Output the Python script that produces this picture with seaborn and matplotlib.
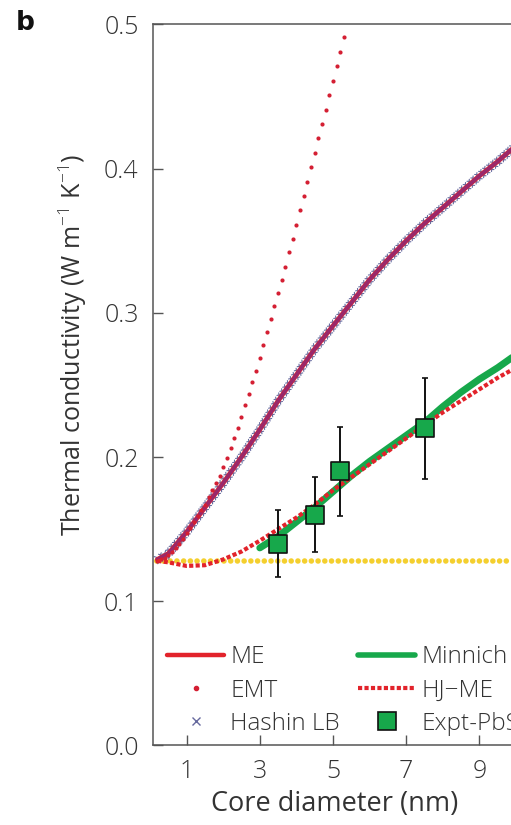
import matplotlib
matplotlib.use("Agg")
import matplotlib.pyplot as plt
import matplotlib.patheffects as pe
from matplotlib.lines import Line2D
import pandas as pd
import seaborn as sns

# Core diameter grid (nm) for the smooth model curves
diam = [0.2, 0.5, 1.0, 1.5, 2.0, 2.5, 3.0, 3.5, 4.0, 4.5, 5.0, 5.5,
        6.0, 6.5, 7.0, 7.5, 8.0, 8.5, 9.0, 9.5, 10.0, 10.5, 11.0]

# Thermal conductivity (W m^-1 K^-1) from each model
k_me = [0.129, 0.133, 0.148, 0.165, 0.182, 0.200, 0.219, 0.239, 0.257, 0.275, 0.291, 0.307,
        0.323, 0.337, 0.350, 0.362, 0.373, 0.384, 0.395, 0.405, 0.416, 0.426, 0.436]
k_hashin = [0.129, 0.133, 0.148, 0.165, 0.182, 0.200, 0.219, 0.239, 0.257, 0.275, 0.291, 0.307,
            0.323, 0.337, 0.350, 0.362, 0.373, 0.384, 0.395, 0.405, 0.416, 0.426, 0.436]
k_hjme = [0.128, 0.127, 0.1245, 0.125, 0.129, 0.1345, 0.142, 0.150, 0.158, 0.167, 0.177, 0.186,
          0.195, 0.204, 0.213, 0.222, 0.231, 0.239, 0.247, 0.255, 0.262, 0.269, 0.276]

diam_minnich = [3.0, 3.5, 4.0, 4.5, 5.0, 5.5, 6.0, 6.5, 7.0, 7.5, 8.0, 8.5, 9.0, 9.5, 10.0, 10.5, 11.0]
k_minnich = [0.137, 0.145, 0.155, 0.165, 0.176, 0.187, 0.197, 0.206, 0.215, 0.224, 0.235, 0.245,
             0.254, 0.262, 0.271, 0.279, 0.287]

# Effective medium theory, sampled every 0.1 nm
diam_emt = [0.2, 0.3, 0.4, 0.5, 0.6, 0.7, 0.8, 0.9, 1.0, 1.1, 1.2, 1.3, 1.4, 1.5, 1.6, 1.7,
            1.8, 1.9, 2.0, 2.1, 2.2, 2.3, 2.4, 2.5, 2.6, 2.7, 2.8, 2.9, 3.0, 3.1, 3.2, 3.3,
            3.4, 3.5, 3.6, 3.7, 3.8, 3.9, 4.0, 4.1, 4.2, 4.3, 4.4, 4.5, 4.6, 4.7, 4.8, 4.9,
            5.0, 5.1, 5.2, 5.3]
k_emt = [0.128, 0.129, 0.130, 0.132, 0.134, 0.137, 0.140, 0.143, 0.147, 0.151, 0.155, 0.159,
         0.163, 0.167, 0.172, 0.177, 0.182, 0.187, 0.193, 0.199, 0.206, 0.213, 0.220, 0.228,
         0.236, 0.244, 0.252, 0.260, 0.269, 0.278, 0.287, 0.296, 0.305, 0.314, 0.323, 0.332,
         0.342, 0.351, 0.361, 0.371, 0.381, 0.391, 0.401, 0.411, 0.421, 0.431, 0.441, 0.451,
         0.461, 0.471, 0.481, 0.491]

# Ligand matrix conductivity (flat reference)
diam_matrix = [0.0, 11.0]
k_matrix = [0.128, 0.128]

# Measured PbS nanocrystal arrays
diam_expt = [3.5, 4.5, 5.2, 7.5]
k_expt = [0.140, 0.160, 0.190, 0.220]
err_expt = [0.023, 0.026, 0.031, 0.035]

x_ticks = [1, 3, 5, 7, 9]
y_ticks = [0.0, 0.1, 0.2, 0.3, 0.4, 0.5]

RED = "#e2232b"
EMT_RED = "#d41f33"
GREEN = "#17a84b"
PURPLE = "#6a2d96"
SLATE = "#66699e"
GOLD = "#f4cf2e"
INK = "#333333"

sns.set_theme(style="ticks")
plt.rcParams["font.family"] = ["Open Sans", "DejaVu Sans"]
plt.rcParams["font.weight"] = "light"
plt.rcParams["mathtext.fontset"] = "custom"
plt.rcParams["mathtext.rm"] = "Open Sans:light"
plt.rcParams["mathtext.it"] = "Open Sans:light"

fig = plt.figure(figsize=(5.11, 8.25), dpi=100)
ax = fig.add_axes([0.2985, 0.0964, 0.783, 0.874])

models = pd.DataFrame({"d": diam, "me": k_me, "hashin": k_hashin, "hjme": k_hjme})
minnich = pd.DataFrame({"d": diam_minnich, "k": k_minnich})
emt = pd.DataFrame({"d": diam_emt, "k": k_emt})
matrix = pd.DataFrame({"d": diam_matrix, "k": k_matrix})
expt = pd.DataFrame({"d": diam_expt, "k": k_expt, "err": err_expt})

sns.lineplot(data=matrix, x="d", y="k", ax=ax, color=GOLD, lw=4.0,
             linestyle=(0, (0.01, 1.2)), dash_capstyle="round", zorder=2)
# Hashin lower bound: dense "x" marks along the curve (under the ME line)
ticks_fx = [pe.withTickedStroke(spacing=3.6, angle=a, length=1.15, linewidth=0.8,
                                foreground=SLATE) for a in (45, -135, 135, -45)]
sns.lineplot(data=models, x="d", y="hashin", ax=ax, color=SLATE, lw=0.5,
             zorder=2.5, path_effects=ticks_fx)
sns.lineplot(data=models, x="d", y="me", ax=ax, color=RED, lw=3.4, zorder=3)
# Hashin band tint over the ME line
sns.lineplot(data=models, x="d", y="hashin", ax=ax, color=PURPLE, lw=2.6, alpha=0.6,
             zorder=4)
sns.scatterplot(data=emt, x="d", y="k", ax=ax, color=EMT_RED, s=9, linewidth=0, zorder=5)
sns.lineplot(data=minnich, x="d", y="k", ax=ax, color=GREEN, lw=5.0, zorder=5)
sns.lineplot(data=models, x="d", y="hjme", ax=ax, color=RED, lw=3.0,
             linestyle=(0, (1.0, 0.55)), zorder=6)
ax.errorbar(expt["d"], expt["k"], yerr=expt["err"], fmt="none", ecolor="#111111",
            elinewidth=1.4, capsize=2.5, capthick=1.2, zorder=7)
sns.scatterplot(data=expt, x="d", y="k", ax=ax, marker="s", s=150, color=GREEN,
                edgecolor="#111111", linewidth=1.2, zorder=8)

ax.set_xlim(0.07, 11.0)
ax.set_ylim(0.0, 0.5)
ax.set_xticks(x_ticks)
ax.set_yticks(y_ticks)
ax.set_xticklabels([str(t) for t in x_ticks])
ax.set_yticklabels([f"{t:.1f}" for t in y_ticks])
ax.tick_params(direction="in", length=7, width=1.0, color="#555555",
               labelsize=18, labelcolor=INK, pad=10)
for side in ("left", "bottom", "top", "right"):
    ax.spines[side].set_color("#555555")
    ax.spines[side].set_linewidth(1.1)

ax.set_xlabel("Core diameter (nm)", fontsize=19.5, color=INK)
ax.xaxis.set_label_coords(0.456, -0.062)
ax.set_ylabel("Thermal conductivity (W m$^{-1}$ K$^{-1}$)", fontsize=18, color=INK)
ax.yaxis.set_label_coords(-0.16, 0.555)

handles = [
    Line2D([], [], color=RED, lw=3.2),
    Line2D([], [], color=EMT_RED, marker="o", markersize=3, linestyle="none"),
    Line2D([], [], color=SLATE, marker="x", markersize=6, markeredgewidth=1.0, linestyle="none"),
    Line2D([], [], color=GREEN, lw=4.0),
    Line2D([], [], color=RED, lw=3.0, linestyle=(0, (1.0, 0.55))),
    Line2D([], [], color=GREEN, marker="s", markersize=13, markeredgecolor="#111111",
           markeredgewidth=1.2, linestyle="none"),
]
labels = ["ME", "EMT", "Hashin LB", "Minnich", "HJ\u2212ME", "Expt-PbS"]
leg = ax.legend(handles, labels, ncol=2, loc="lower left", bbox_to_anchor=(0.012, 0.0),
                frameon=False, fontsize=17.5, handlelength=2.35, handletextpad=0.25,
                columnspacing=0.75, labelspacing=0.38, borderaxespad=0.05,
                borderpad=0.35, numpoints=1)
for t in leg.get_texts():
    t.set_color(INK)

fig.text(0.03, 0.988, "b", fontsize=19, fontweight="bold", va="top", ha="left",
         family="DejaVu Sans", color="#111111")

fig.savefig("out.png", dpi=100)
